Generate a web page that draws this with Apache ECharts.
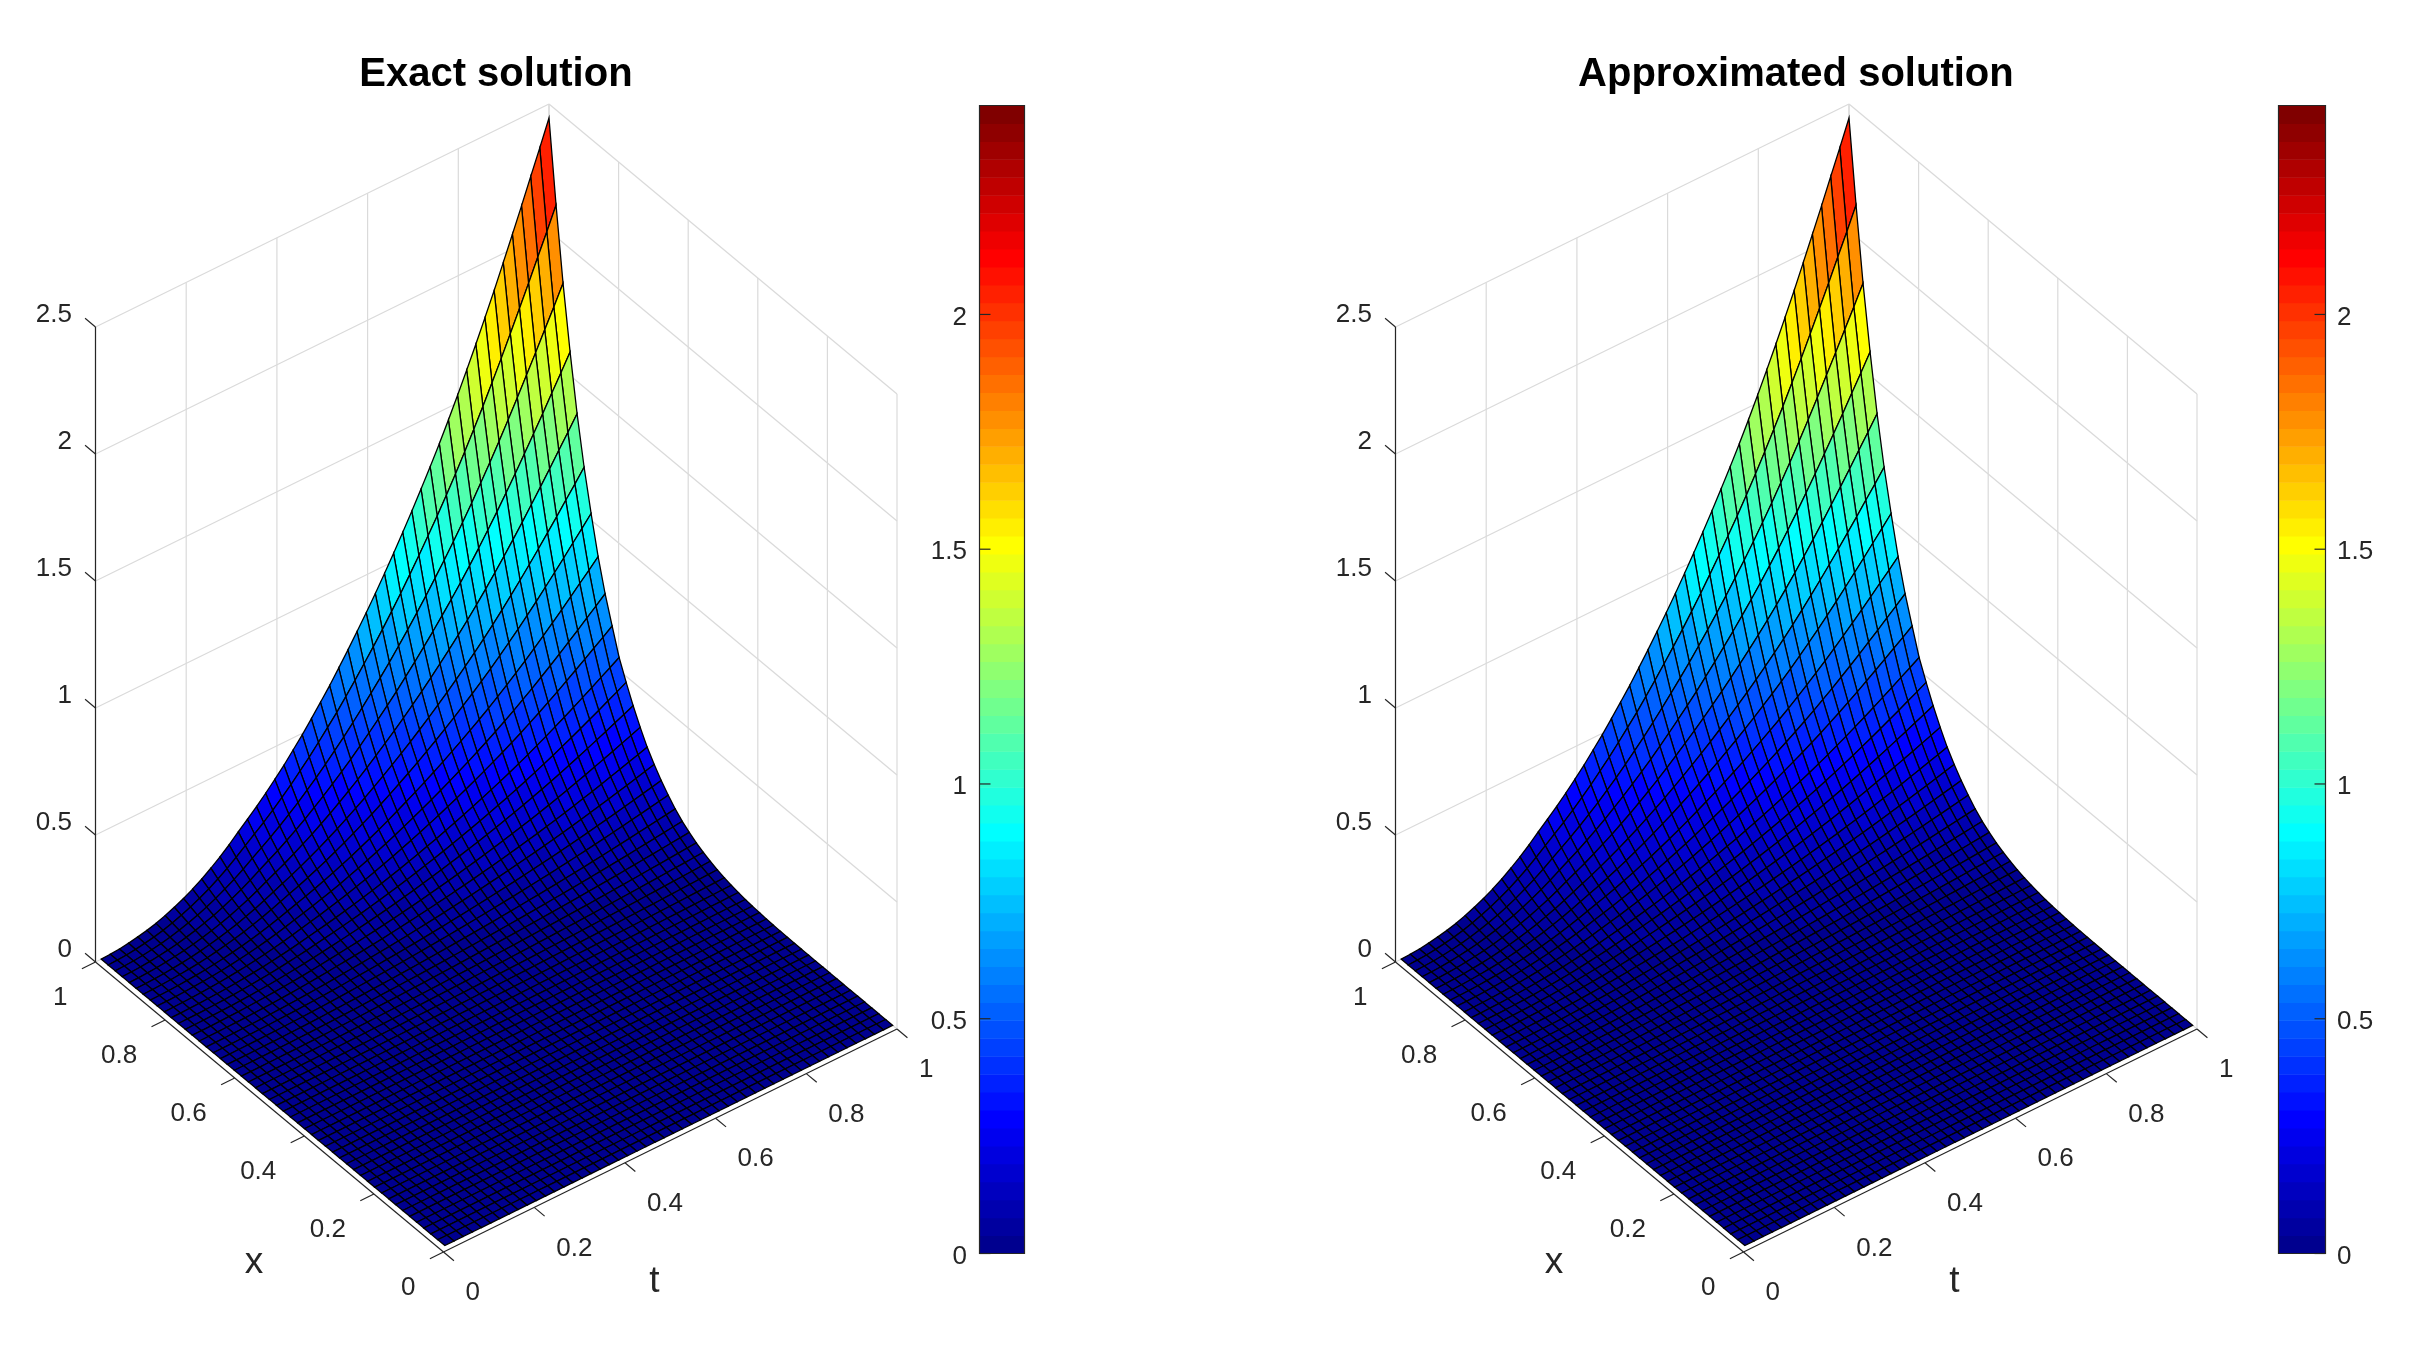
<!DOCTYPE html>
<html><head><meta charset="utf-8">
<style>html,body{margin:0;padding:0;background:#fff}#c{width:2424px;height:1353px}</style>
<script src="https://cdn.jsdelivr.net/npm/echarts@6/dist/echarts.min.js"></script>
</head><body><div id="c"></div>
<script>
// mesh node positions (same along x and t)
const meshNodes = [.0125,.0327,.0528,.0730,.0931,.1133,.1334,.1536,.1737,.1939,.2140,.2342,.2543,.2745,.2946,.3148,.3349,.3551,.3752,.3954,.4155,.4357,.4558,.4760,.4961,.5163,.5364,.5566,.5767,.5969,.6170,.6372,.6573,.6775,.6976,.7178,.7379,.7581,.7782,.7984,.8185,.8387,.8588,.8790,.8991,.9193,.9394,.9596,.9797,1];
// height along the edge x=1, for each t node (left silhouette)
const edgeAlongT = [.0004,.002,.005,.010,.017,.025,.035,.048,.063,.080,.099,.121,.146,.173,.203,.236,.268,.300,.335,.372,.410,.452,.494,.540,.587,.635,.687,.740,.795,.851,.909,.970,1.032,1.097,1.163,1.232,1.302,1.375,1.451,1.530,1.612,1.696,1.783,1.872,1.964,2.058,2.152,2.250,2.345,2.445];
// height along the edge t=1, for each x node (right silhouette)
const edgeAlongX = [.0001,.0001,.0001,.0001,.0001,.0001,.0001,.0002,.0002,.0002,.0003,.0003,.0005,.0007,.0010,.0015,.0023,.0034,.0048,.0068,.0092,.0125,.0170,.0225,.0290,.0375,.0480,.0600,.0745,.0925,.113,.139,.170,.205,.245,.290,.345,.407,.476,.551,.652,.756,.879,1.026,1.185,1.373,1.593,1.840,2.125,2.445];
const peakValue = 2.445;
const zTicks = [0,.5,1,1.5,2,2.5];
const xTicks = [0,.2,.4,.6,.8,1];
const tTicks = [0,.2,.4,.6,.8,1];
const colorbarTicks = [0,.5,1,1.5,2];
const plotTitles = ['Exact solution','Approximated solution'];
const plotOffsets = [0,1300];

const INK='#262626', GRID='#dadada', FONT='"Liberation Sans", Arial, sans-serif';

// Octave jet(64)
const jet=(()=>{const m=64,n=16,c=[];for(let i=0;i<m;i++)c.push([0,0,0]);
  const u=[];for(let k=1;k<=n;k++)u.push(k/n);for(let k=1;k<n;k++)u.push(1);for(let k=n;k>=1;k--)u.push(k/n);
  u.forEach((v,k)=>{const g=8+k+1,r=g+n,b=g-n;
    if(r<=m)c[r-1][0]=v; if(g<=m)c[g-1][1]=v; if(b>=1)c[b-1][2]=v;});
  return c.map(a=>'rgb('+a.map(v=>Math.round(v*255)).join(',')+')');})();
const colorOf=z=>jet[Math.min(63,Math.floor(z/peakValue*64))];

// orthographic view of (x,t,z) on the plane of the hidden axes
const project=(x,t,z)=>[443.5-348*x+453.5*t, 1252-290*x-223*t-254*z];

const N=meshNodes.length;
const height=(i,j)=>edgeAlongX[i]*edgeAlongT[j]/peakValue;
const cellData=[];
for(let i=N-2;i>=0;i--)for(let j=N-2;j>=0;j--)cellData.push([i,j]);

// frame pieces
const greySegs=[],blackSegs=[],texts=[];
zTicks.forEach(z=>{greySegs.push([[1,0,z],[1,1,z]],[[1,1,z],[0,1,z]]);});
tTicks.forEach(t=>{greySegs.push([[1,t,0],[1,t,2.5]]);});
xTicks.forEach(x=>{greySegs.push([[x,1,0],[x,1,2.5]]);});
blackSegs.push([[1,0,0],[0,0,0]],[[0,0,0],[0,1,0]],[[1,0,0],[1,0,2.5]]);
const tl=0.03;
xTicks.forEach(x=>{blackSegs.push([[x,0,0],[x,-tl,0]]);texts.push({p:[x,0,0],dx:-28,dy:35.5,s:String(x),a:'right',f:26});});
tTicks.forEach(t=>{blackSegs.push([[0,t,0],[-tl,t,0]]);texts.push({p:[0,t,0],dx:22,dy:41,s:String(t),a:'left',f:26});});
zTicks.forEach(z=>{blackSegs.push([[1,0,z],[1+tl,0,z]]);texts.push({p:[1,0,z],dx:-23.5,dy:-12,s:String(z),a:'right',f:26});});
texts.push({p:[0,0,0],dx:-189.5,dy:10.5,s:'x',a:'center',f:37});
texts.push({p:[0,0,0],dx:211,dy:29.5,s:'t',a:'center',f:37});

const line=(api,seg,color,w)=>{const a=api.coord(project(...seg[0])),b=api.coord(project(...seg[1]));
  return {type:'line',shape:{x1:a[0],y1:a[1],x2:b[0],y2:b[1]},style:{stroke:color,lineWidth:w}};};

const grids=[],xAxes=[],yAxes=[],series=[],titles=[];
plotOffsets.forEach((off,p)=>{
  const g0=grids.length;
  grids.push({left:off,top:0,width:1100,height:1353});
  xAxes.push({type:'value',gridIndex:g0,min:0,max:1100,show:false});
  yAxes.push({type:'value',gridIndex:g0,min:0,max:1353,inverse:true,show:false});
  const base={type:'custom',coordinateSystem:'cartesian2d',xAxisIndex:g0,yAxisIndex:g0,silent:true,animation:false,clip:false};
  series.push(Object.assign({},base,{z:2,data:greySegs.map((s,k)=>[k]),
    renderItem:(par,api)=>line(api,greySegs[api.value(0)],GRID,1.2)}));
  series.push(Object.assign({},base,{z:3,data:cellData,progressive:0,
    renderItem:(par,api)=>{const i=api.value(0),j=api.value(1);
      const pts=[[i,j],[i+1,j],[i+1,j+1],[i,j+1]].map(q=>api.coord(project(meshNodes[q[0]],meshNodes[q[1]],height(q[0],q[1]))));
      return {type:'polygon',shape:{points:pts},style:{fill:colorOf(height(i,j)),stroke:'#000',lineWidth:1.3}};}}));
  series.push(Object.assign({},base,{z:4,data:blackSegs.map((s,k)=>[k]),
    renderItem:(par,api)=>line(api,blackSegs[api.value(0)],INK,1.2)}));
  series.push(Object.assign({},base,{z:5,data:texts.map((s,k)=>[k]),
    renderItem:(par,api)=>{const o=texts[api.value(0)],c=api.coord(project(...o.p));
      return {type:'text',x:c[0]+o.dx,y:c[1]+o.dy,style:{text:o.s,fill:INK,font:o.f+'px '+FONT,align:o.a,verticalAlign:'middle'}};}}));
  titles.push({text:plotTitles[p],left:490.9+off,top:70,textAlign:'center',textVerticalAlign:'middle',
    textStyle:{fontFamily:FONT,fontWeight:'bold',fontSize:40,color:'#000'}});

  // colorbar
  const g1=grids.length, right=p===1;
  grids.push({left:right?2278.5:979.5,top:105.5,width:right?47:45,height:1148});
  xAxes.push({type:'value',gridIndex:g1,min:0,max:1,show:false});
  yAxes.push({type:'value',gridIndex:g1,min:0,max:peakValue,position:right?'right':'left',z:6,
    splitLine:{show:false},axisLine:{show:false,onZero:false},axisTick:{show:false},axisLabel:{show:false}});
  const cb={type:'custom',coordinateSystem:'cartesian2d',xAxisIndex:g1,yAxisIndex:g1,silent:true,animation:false,clip:false};
  series.push(Object.assign({},cb,{z:2,data:jet.map((c,i)=>[i]),
    renderItem:(par,api)=>{const i=api.value(0),a=api.coord([0,i/64*peakValue]),b=api.coord([1,(i+1)/64*peakValue]);
      return {type:'rect',shape:{x:a[0],y:b[1],width:b[0]-a[0],height:a[1]-b[1]+0.5},style:{fill:jet[i]}};}}));
  series.push(Object.assign({},cb,{z:3,data:[[0]],
    renderItem:(par,api)=>{const a=api.coord([0,0]),b=api.coord([1,peakValue]);
      return {type:'rect',shape:{x:a[0],y:b[1],width:b[0]-a[0],height:a[1]-b[1]},style:{fill:'none',stroke:INK,lineWidth:1.2}};}}));
  series.push(Object.assign({},cb,{z:4,data:colorbarTicks.map(v=>[v]),
    renderItem:(par,api)=>{const v=api.value(0),e=api.coord([right?1:0,v]),d=right?-11:11;
      return {type:'group',children:[
        {type:'line',shape:{x1:e[0],y1:e[1],x2:e[0]+d,y2:e[1]},style:{stroke:INK,lineWidth:1.2}},
        {type:'text',x:e[0]+(right?11.5:-12.5),y:e[1]+3,style:{text:String(v),fill:INK,font:'26px '+FONT,align:right?'left':'right',verticalAlign:'middle'}}
      ]};}}));
});

const chart=echarts.init(document.getElementById('c'),null,{renderer:'canvas',width:2424,height:1353});
chart.setOption({backgroundColor:'#fff',animation:false,title:titles,grid:grids,xAxis:xAxes,yAxis:yAxes,series:series});
</script></body></html>
